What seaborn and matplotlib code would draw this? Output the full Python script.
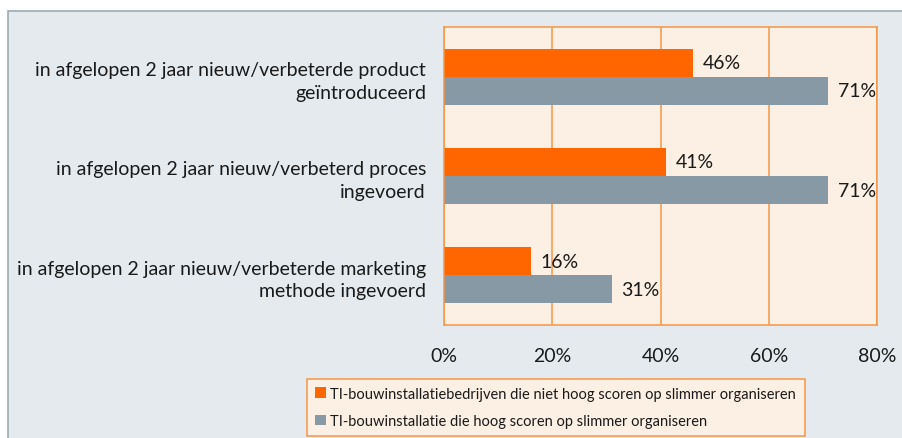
import matplotlib
matplotlib.use("Agg")
import matplotlib.pyplot as plt
import seaborn as sns
import pandas as pd
from matplotlib.patches import Rectangle, Patch

categories = [
    "in afgelopen 2 jaar nieuw/verbeterde product\ngeïntroduceerd",
    "in afgelopen 2 jaar nieuw/verbeterd proces\ningevoerd",
    "in afgelopen 2 jaar nieuw/verbeterde marketing\nmethode ingevoerd",
]
series_names = [
    "TI-bouwinstallatiebedrijven die niet hoog scoren op slimmer organiseren",
    "TI-bouwinstallatie die hoog scoren op slimmer organiseren",
]
values_low = [46, 41, 16]
values_high = [71, 71, 31]
xticks = [0, 20, 40, 60, 80]
xtick_labels = ["0%", "20%", "40%", "60%", "80%"]

colors = ["#FF6600", "#8799A5"]
orange_line = "#F79646"
fig_bg = "#E4EAEE"
plot_bg = "#FCEFE3"
FS = 14.0

sns.set_style("white")
plt.rcParams["font.family"] = ["Lato", "DejaVu Sans"]

df = pd.DataFrame({
    "cat": categories * 2,
    "series": [series_names[0]] * 3 + [series_names[1]] * 3,
    "val": values_low + values_high,
})

fig = plt.figure(figsize=(9.02, 4.39), dpi=100)
fig.patch.set_facecolor("white")
fig.patches.append(Rectangle((8 / 902, -0.05), 1.0, (439 - 12) / 439 + 0.05,
                             transform=fig.transFigure, facecolor=fig_bg,
                             edgecolor="#9AABB5", linewidth=1.2, zorder=-10))

ax = fig.add_axes([444 / 902, 1 - 326 / 439, (877 - 444) / 902, (326 - 28) / 439])
ax.set_facecolor(plot_bg)

sns.barplot(data=df, y="cat", x="val", hue="series", orient="h",
            palette=colors, width=0.566, ax=ax, legend=False,
            saturation=1, linewidth=0)

ax.set_xlim(0, 80)
ax.set_ylim(2.5, -0.5)
ax.set_xlabel("")
ax.set_ylabel("")
ax.set_xticks(xticks)
ax.set_xticklabels(xtick_labels, fontsize=FS, color="#1a1a1a")
ax.set_yticks(range(len(categories)))
ax.set_yticklabels(categories, fontsize=FS, color="#1a1a1a", linespacing=1.4)
ax.set_yticks([-0.5, 0.5, 1.5, 2.5], minor=True)
ax.tick_params(axis="y", which="major", length=0, pad=13)
ax.tick_params(axis="y", which="minor", length=7, width=1, color=orange_line, direction="out")
ax.tick_params(axis="x", which="major", length=5, width=1, color=orange_line,
               direction="out", pad=11)

ax.grid(axis="x", color=orange_line, linewidth=1.1)
ax.set_axisbelow(True)
for s in ax.spines.values():
    s.set_visible(True)
    s.set_color(orange_line)
    s.set_linewidth(1.1)

for container in ax.containers:
    ax.bar_label(container, labels=[f"{v:.0f}%" for v in container.datavalues],
                 padding=7, fontsize=FS, color="#1a1a1a")

handles = [Patch(facecolor=c, edgecolor="none") for c in colors]
leg = fig.legend(handles, series_names, loc="lower left",
                 bbox_to_anchor=(307 / 902, 2 / 439, 498 / 902, 59 / 439),
                 mode="expand", fontsize=10.5, frameon=True, fancybox=False,
                 handlelength=0.75, handleheight=0.75, handletextpad=0.3,
                 labelspacing=0.9, borderpad=0.55, borderaxespad=0)
for t in leg.get_texts():
    t.set_color("#1a1a1a")
leg.get_frame().set_facecolor(plot_bg)
leg.get_frame().set_edgecolor(orange_line)
leg.get_frame().set_linewidth(1.1)
leg.get_frame().set_alpha(1)

fig.savefig("out.png", dpi=100, facecolor=fig.get_facecolor())
